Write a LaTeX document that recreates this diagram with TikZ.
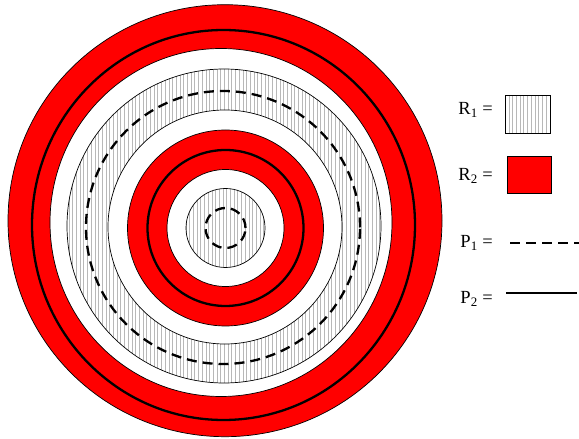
\documentclass[tikz,border=0pt]{standalone}
\usepackage{fontspec}
\setmainfont{Liberation Serif}
\usetikzlibrary{positioning,calc}
\definecolor{ringred}{HTML}{FF0000}
\definecolor{hatch}{HTML}{B8B8B8}

\begin{document}
\begin{tikzpicture}[x=1pt, y=1pt,
  font=\fontsize{18.5}{20}\selectfont,
  outline/.style={draw=black, line width=0.7pt},
  hatchline/.style={draw=hatch, line width=0.8pt},
  pathone/.style={line width=2.3pt, dash pattern=on 10pt off 6pt},
  pathtwo/.style={line width=2.3pt},
  keytext/.style={inner sep=0pt, anchor=base east},
  keybox/.style={draw=black, line width=0.7pt, minimum width=45pt, minimum height=38pt, inner sep=0pt, anchor=west}
]
\useasboundingbox (0,0) rectangle (579,439);
% centres of the (not quite concentric) rings
\coordinate (outer) at (225,218.3);
\coordinate (pline) at (223.5,214);
\coordinate (redin) at (221,216.5);
\coordinate (hatchout) at (224,213);
\coordinate (dashc) at (223,211.5);
\coordinate (hatchin) at (225,212);
\coordinate (c) at (225.5,211);

% outer R2 ring
\fill[ringred, even odd rule] (outer) ellipse [x radius=217pt, y radius=216pt]
  (redin) ellipse [x radius=171pt, y radius=174pt];
% R1 ring, vertical hatching
\begin{scope}[even odd rule]
  \clip (hatchout) circle (157pt) (hatchin) circle (117pt);
  \foreach \i in {0,...,86}
    \draw[hatchline] ({69+3.7*\i},40) -- ({69+3.7*\i},400);
\end{scope}
% inner R2 ring
\fill[ringred, even odd rule] (c) circle (98pt) (c) circle (58.5pt);
% inner R1 disc
\begin{scope}
  \clip (c) circle (39.5pt);
  \foreach \i in {0,...,22}
    \draw[hatchline] ({186+3.7*\i},160) -- ({186+3.7*\i},260);
\end{scope}

% region borders
\draw[outline] (outer) ellipse [x radius=217pt, y radius=216pt];
\draw[outline] (redin) ellipse [x radius=171pt, y radius=174pt];
\draw[outline] (hatchout) circle (157pt);
\draw[outline] (hatchin) circle (117pt);
\foreach \r in {98,58.5,39.5}
  \draw[outline] (c) circle (\r pt);

% paths
\draw[pathtwo] (pline) ellipse [x radius=191.5pt, y radius=195pt];
\draw[pathtwo] (c) circle (78pt);
\draw[pathone] (dashc) ellipse [x radius=137pt, y radius=136.5pt];
\draw[pathone] (c) circle (20pt);

% key
\node[keytext] (r1lab) at (493,324) {R\textsubscript{1} =};
\node[keybox, path picture={
    \foreach \i in {1,...,11}
      \draw[hatchline] ($(path picture bounding box.south west)+(3.7*\i,0)$) -- ++(0,38);
  }] (r1box) at (505,325) {};
\node[keytext] (r2lab) at (493,258) {R\textsubscript{2} =};
\node[keybox, fill=ringred, minimum width=44pt, minimum height=37pt] (r2box) at (507,264) {};

\node[keytext] (p1lab) at (493,191) {P\textsubscript{1} =};
\coordinate (p1a) at (510,196);
\coordinate (p1b) at (579,196);
\draw[pathone] (p1a) -- (p1b);

\node[keytext] (p2lab) at (493,135) {P\textsubscript{2} =};
\coordinate (p2a) at (506,146);
\coordinate (p2b) at (577,146);
\draw[pathtwo] (p2a) -- (p2b);
\end{tikzpicture}
\end{document}
